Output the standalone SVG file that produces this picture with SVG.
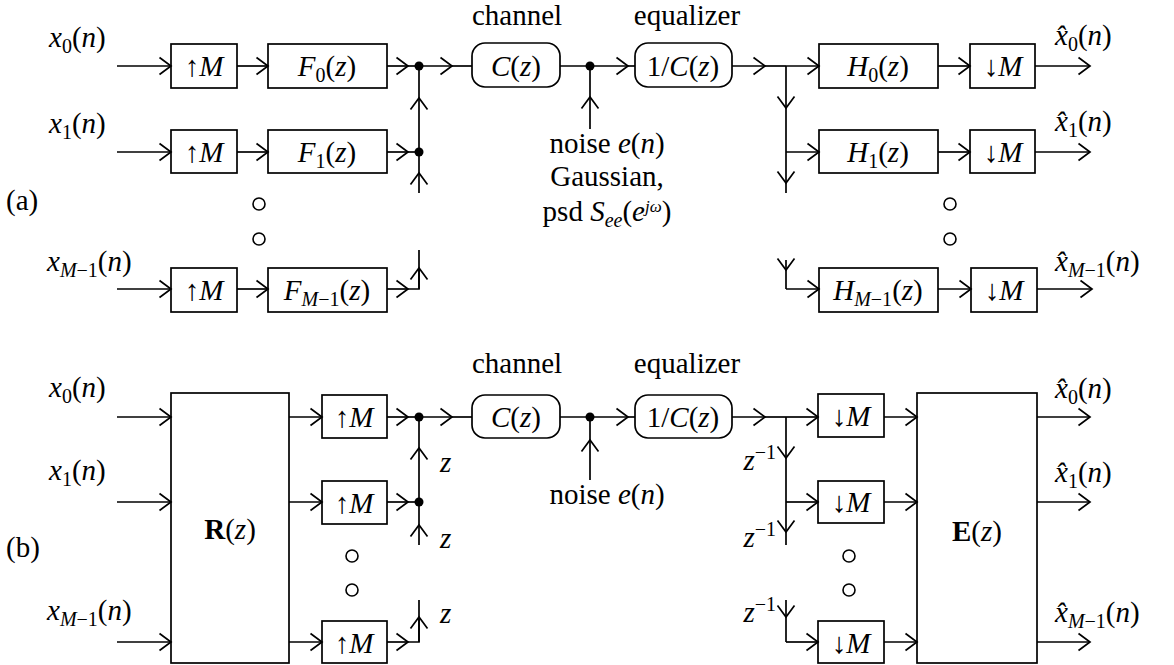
<svg xmlns="http://www.w3.org/2000/svg" width="1174" height="665" viewBox="0 0 1174 665">
<style>
.t{font-family:"Liberation Serif","DejaVu Serif",serif;font-size:29px;fill:#000}
.i{font-style:italic}
.s{font-size:20px}
.b{font-weight:bold}
.box{fill:none;stroke:#000;stroke-width:1.7}
.ln{fill:none;stroke:#000;stroke-width:1.7}
.dot{fill:#000}
.circ{fill:none;stroke:#000;stroke-width:1.6}
</style>
<defs>
<marker id="ah" markerUnits="userSpaceOnUse" markerWidth="15" markerHeight="20" viewBox="0 0 15 20" refX="13" refY="10" orient="auto">
<path d="M1.5,1.5 L13,10 L1.5,18.5" fill="none" stroke="#000" stroke-width="1.7"/>
</marker>
</defs>

<!-- ============ (a) ============ -->
<text class="t" x="6" y="210">(a)</text>

<g id="a-labels">
<text class="t" x="49" y="47"><tspan class="i">x</tspan><tspan class="s" dy="6">0</tspan><tspan dy="-6">(</tspan><tspan class="i">n</tspan>)</text>
<text class="t" x="49" y="133"><tspan class="i">x</tspan><tspan class="s" dy="6">1</tspan><tspan dy="-6">(</tspan><tspan class="i">n</tspan>)</text>
<text class="t" x="47" y="271"><tspan class="i">x</tspan><tspan class="s i" dy="6">M</tspan><tspan class="s">−1</tspan><tspan dy="-6">(</tspan><tspan class="i">n</tspan>)</text>
<text class="t" x="517" y="25" text-anchor="middle">channel</text>
<text class="t" x="687" y="25" text-anchor="middle">equalizer</text>
<text class="t" x="607" y="153" text-anchor="middle">noise <tspan class="i">e</tspan>(<tspan class="i">n</tspan>)</text>
<text class="t" x="607" y="186" text-anchor="middle">Gaussian,</text>
<text class="t" x="607" y="221" text-anchor="middle">psd <tspan class="i">S</tspan><tspan class="s i" dy="6">ee</tspan><tspan dy="-6">(</tspan><tspan class="i">e</tspan><tspan class="i" font-size="17" dy="-9">jω</tspan><tspan dy="9">)</tspan></text>
<text class="t" x="1055" y="45"><tspan class="i">x̂</tspan><tspan class="s" dy="6">0</tspan><tspan dy="-6">(</tspan><tspan class="i">n</tspan>)</text>
<text class="t" x="1055" y="131"><tspan class="i">x̂</tspan><tspan class="s" dy="6">1</tspan><tspan dy="-6">(</tspan><tspan class="i">n</tspan>)</text>
<text class="t" x="1055" y="271"><tspan class="i">x̂</tspan><tspan class="s i" dy="6">M</tspan><tspan class="s">−1</tspan><tspan dy="-6">(</tspan><tspan class="i">n</tspan>)</text>
</g>

<g id="a-up0"><rect class="box" x="171" y="44" width="66" height="44"/><text class="t" x="204" y="76" text-anchor="middle">↑<tspan class="i">M</tspan></text></g>
<g id="a-up1"><rect class="box" x="171" y="130" width="66" height="43"/><text class="t" x="204" y="162" text-anchor="middle">↑<tspan class="i">M</tspan></text></g>
<g id="a-up2"><rect class="box" x="171" y="268" width="66" height="44"/><text class="t" x="204" y="300" text-anchor="middle">↑<tspan class="i">M</tspan></text></g>
<g id="a-F0"><rect class="box" x="268" y="44" width="119" height="44"/><text class="t" x="327" y="76" text-anchor="middle"><tspan class="i">F</tspan><tspan class="s" dy="6">0</tspan><tspan dy="-6">(</tspan><tspan class="i">z</tspan>)</text></g>
<g id="a-F1"><rect class="box" x="268" y="130" width="119" height="43"/><text class="t" x="327" y="162" text-anchor="middle"><tspan class="i">F</tspan><tspan class="s" dy="6">1</tspan><tspan dy="-6">(</tspan><tspan class="i">z</tspan>)</text></g>
<g id="a-F2"><rect class="box" x="268" y="268" width="119" height="44"/><text class="t" x="327" y="300" text-anchor="middle"><tspan class="i">F</tspan><tspan class="s i" dy="6">M</tspan><tspan class="s">−1</tspan><tspan dy="-6">(</tspan><tspan class="i">z</tspan>)</text></g>
<g id="a-C"><rect class="box" x="472" y="43" width="88" height="44" rx="13"/><text class="t" x="516" y="76" text-anchor="middle"><tspan class="i">C</tspan>(<tspan class="i">z</tspan>)</text></g>
<g id="a-eq"><rect class="box" x="635" y="43" width="97" height="44" rx="13"/><text class="t" x="683" y="76" text-anchor="middle">1/<tspan class="i">C</tspan>(<tspan class="i">z</tspan>)</text></g>
<g id="a-H0"><rect class="box" x="819" y="44" width="119" height="44"/><text class="t" x="878" y="76" text-anchor="middle"><tspan class="i">H</tspan><tspan class="s" dy="6">0</tspan><tspan dy="-6">(</tspan><tspan class="i">z</tspan>)</text></g>
<g id="a-H1"><rect class="box" x="819" y="130" width="119" height="43"/><text class="t" x="878" y="162" text-anchor="middle"><tspan class="i">H</tspan><tspan class="s" dy="6">1</tspan><tspan dy="-6">(</tspan><tspan class="i">z</tspan>)</text></g>
<g id="a-H2"><rect class="box" x="819" y="268" width="119" height="44"/><text class="t" x="878" y="300" text-anchor="middle"><tspan class="i">H</tspan><tspan class="s i" dy="6">M</tspan><tspan class="s">−1</tspan><tspan dy="-6">(</tspan><tspan class="i">z</tspan>)</text></g>
<g id="a-dn0"><rect class="box" x="970" y="44" width="65" height="44"/><text class="t" x="1003" y="76" text-anchor="middle">↓<tspan class="i">M</tspan></text></g>
<g id="a-dn1"><rect class="box" x="970" y="130" width="65" height="43"/><text class="t" x="1003" y="162" text-anchor="middle">↓<tspan class="i">M</tspan></text></g>
<g id="a-dn2"><rect class="box" x="971" y="268" width="66" height="44"/><text class="t" x="1004" y="300" text-anchor="middle">↓<tspan class="i">M</tspan></text></g>

<g id="a-dots">
<circle class="circ" cx="259" cy="204" r="6"/><circle class="circ" cx="259" cy="239" r="6"/>
<circle class="circ" cx="950" cy="204" r="6"/><circle class="circ" cx="950" cy="239" r="6"/>
</g>

<g id="a-connectors">
<path class="ln" d="M117,66H171" marker-end="url(#ah)"/>
<path class="ln" d="M117,152H171" marker-end="url(#ah)"/>
<path class="ln" d="M117,289H171" marker-end="url(#ah)"/>
<path class="ln" d="M237,66H268" marker-end="url(#ah)"/>
<path class="ln" d="M237,152H268" marker-end="url(#ah)"/>
<path class="ln" d="M237,289H268" marker-end="url(#ah)"/>
<path class="ln" d="M387,66H408" marker-end="url(#ah)"/><path class="ln" d="M408,66H419"/>
<path class="ln" d="M387,152H408" marker-end="url(#ah)"/><path class="ln" d="M408,152H419"/>
<path class="ln" d="M387,289H408" marker-end="url(#ah)"/><path class="ln" d="M408,289H419V250"/>
<path class="ln" d="M419,289V268" marker-end="url(#ah)"/>
<path class="ln" d="M419,193V173" marker-end="url(#ah)"/><path class="ln" d="M419,173V152"/>
<path class="ln" d="M419,152V98" marker-end="url(#ah)"/><path class="ln" d="M419,98V66"/>
<circle class="dot" cx="419" cy="66" r="4.5"/><circle class="dot" cx="419" cy="152" r="4.5"/>
<path class="ln" d="M419,66H452" marker-end="url(#ah)"/><path class="ln" d="M452,66H472"/>
<path class="ln" d="M560,66H628" marker-end="url(#ah)"/><path class="ln" d="M628,66H635"/>
<circle class="dot" cx="590" cy="66" r="4.5"/>
<path class="ln" d="M590,129V97" marker-end="url(#ah)"/><path class="ln" d="M590,97V66"/>
<path class="ln" d="M732,66H765" marker-end="url(#ah)"/><path class="ln" d="M765,66H786"/>
<path class="ln" d="M786,66H819" marker-end="url(#ah)"/>
<path class="ln" d="M786,66V108" marker-end="url(#ah)"/><path class="ln" d="M786,108V152"/>
<path class="ln" d="M786,152V183" marker-end="url(#ah)"/><path class="ln" d="M786,183V193"/>
<path class="ln" d="M786,152H819" marker-end="url(#ah)"/>
<path class="ln" d="M786,260V270" marker-end="url(#ah)"/><path class="ln" d="M786,270V289"/>
<path class="ln" d="M786,289H819" marker-end="url(#ah)"/>
<path class="ln" d="M938,66H970" marker-end="url(#ah)"/>
<path class="ln" d="M938,152H970" marker-end="url(#ah)"/>
<path class="ln" d="M938,289H971" marker-end="url(#ah)"/>
<path class="ln" d="M1035,66H1090" marker-end="url(#ah)"/>
<path class="ln" d="M1035,152H1090" marker-end="url(#ah)"/>
<path class="ln" d="M1037,289H1092" marker-end="url(#ah)"/>
</g>

<!-- ============ (b) ============ -->
<text class="t" x="6" y="557">(b)</text>

<g id="b-labels">
<text class="t" x="49" y="397"><tspan class="i">x</tspan><tspan class="s" dy="6">0</tspan><tspan dy="-6">(</tspan><tspan class="i">n</tspan>)</text>
<text class="t" x="49" y="480"><tspan class="i">x</tspan><tspan class="s" dy="6">1</tspan><tspan dy="-6">(</tspan><tspan class="i">n</tspan>)</text>
<text class="t" x="47" y="620"><tspan class="i">x</tspan><tspan class="s i" dy="6">M</tspan><tspan class="s">−1</tspan><tspan dy="-6">(</tspan><tspan class="i">n</tspan>)</text>
<text class="t" x="517" y="373" text-anchor="middle">channel</text>
<text class="t" x="687" y="373" text-anchor="middle">equalizer</text>
<text class="t" x="607" y="504" text-anchor="middle">noise <tspan class="i">e</tspan>(<tspan class="i">n</tspan>)</text>
<text class="t i" x="440" y="472">z</text>
<text class="t i" x="440" y="548">z</text>
<text class="t i" x="440" y="623">z</text>
<text class="t" x="776" y="470" text-anchor="end"><tspan class="i">z</tspan><tspan class="s" dy="-11">−1</tspan></text>
<text class="t" x="776" y="547" text-anchor="end"><tspan class="i">z</tspan><tspan class="s" dy="-11">−1</tspan></text>
<text class="t" x="776" y="622" text-anchor="end"><tspan class="i">z</tspan><tspan class="s" dy="-11">−1</tspan></text>
<text class="t" x="1055" y="398"><tspan class="i">x̂</tspan><tspan class="s" dy="6">0</tspan><tspan dy="-6">(</tspan><tspan class="i">n</tspan>)</text>
<text class="t" x="1055" y="482"><tspan class="i">x̂</tspan><tspan class="s" dy="6">1</tspan><tspan dy="-6">(</tspan><tspan class="i">n</tspan>)</text>
<text class="t" x="1055" y="622"><tspan class="i">x̂</tspan><tspan class="s i" dy="6">M</tspan><tspan class="s">−1</tspan><tspan dy="-6">(</tspan><tspan class="i">n</tspan>)</text>
</g>

<g id="b-R"><rect class="box" x="171" y="393" width="118" height="270"/><text class="t" x="230" y="539" text-anchor="middle"><tspan class="b">R</tspan>(<tspan class="i">z</tspan>)</text></g>
<g id="b-up0"><rect class="box" x="322" y="395" width="65" height="43"/><text class="t" x="354" y="427" text-anchor="middle">↑<tspan class="i">M</tspan></text></g>
<g id="b-up1"><rect class="box" x="322" y="481" width="65" height="43"/><text class="t" x="354" y="513" text-anchor="middle">↑<tspan class="i">M</tspan></text></g>
<g id="b-up2"><rect class="box" x="322" y="621" width="65" height="42"/><text class="t" x="354" y="653" text-anchor="middle">↑<tspan class="i">M</tspan></text></g>
<g id="b-C"><rect class="box" x="472" y="395" width="88" height="43" rx="13"/><text class="t" x="516" y="427" text-anchor="middle"><tspan class="i">C</tspan>(<tspan class="i">z</tspan>)</text></g>
<g id="b-eq"><rect class="box" x="635" y="395" width="97" height="43" rx="13"/><text class="t" x="683" y="427" text-anchor="middle">1/<tspan class="i">C</tspan>(<tspan class="i">z</tspan>)</text></g>
<g id="b-dn0"><rect class="box" x="818" y="394" width="66" height="43"/><text class="t" x="851" y="426" text-anchor="middle">↓<tspan class="i">M</tspan></text></g>
<g id="b-dn1"><rect class="box" x="818" y="481" width="66" height="42"/><text class="t" x="851" y="512" text-anchor="middle">↓<tspan class="i">M</tspan></text></g>
<g id="b-dn2"><rect class="box" x="818" y="621" width="66" height="42"/><text class="t" x="851" y="653" text-anchor="middle">↓<tspan class="i">M</tspan></text></g>
<g id="b-E"><rect class="box" x="917" y="393" width="120" height="270"/><text class="t" x="977" y="541" text-anchor="middle"><tspan class="b">E</tspan>(<tspan class="i">z</tspan>)</text></g>

<g id="b-dots">
<circle class="circ" cx="352" cy="556" r="6"/><circle class="circ" cx="352" cy="590" r="6"/>
<circle class="circ" cx="849" cy="556" r="6"/><circle class="circ" cx="849" cy="590" r="6"/>
</g>

<g id="b-connectors">
<path class="ln" d="M117,417H171" marker-end="url(#ah)"/>
<path class="ln" d="M117,502H171" marker-end="url(#ah)"/>
<path class="ln" d="M117,642H171" marker-end="url(#ah)"/>
<path class="ln" d="M289,417H322" marker-end="url(#ah)"/>
<path class="ln" d="M289,502H322" marker-end="url(#ah)"/>
<path class="ln" d="M289,642H322" marker-end="url(#ah)"/>
<path class="ln" d="M387,417H408" marker-end="url(#ah)"/><path class="ln" d="M408,417H419"/>
<path class="ln" d="M387,502H408" marker-end="url(#ah)"/><path class="ln" d="M408,502H419"/>
<path class="ln" d="M387,642H408" marker-end="url(#ah)"/><path class="ln" d="M408,642H419V600"/>
<path class="ln" d="M419,642V617" marker-end="url(#ah)"/>
<path class="ln" d="M419,545V525" marker-end="url(#ah)"/><path class="ln" d="M419,525V502"/>
<path class="ln" d="M419,502V448" marker-end="url(#ah)"/><path class="ln" d="M419,448V417"/>
<circle class="dot" cx="419" cy="417" r="4.5"/><circle class="dot" cx="419" cy="502" r="4.5"/>
<path class="ln" d="M419,417H452" marker-end="url(#ah)"/><path class="ln" d="M452,417H472"/>
<path class="ln" d="M560,417H628" marker-end="url(#ah)"/><path class="ln" d="M628,417H635"/>
<circle class="dot" cx="590" cy="417" r="4.5"/>
<path class="ln" d="M590,480V440" marker-end="url(#ah)"/><path class="ln" d="M590,440V417"/>
<path class="ln" d="M732,417H765" marker-end="url(#ah)"/><path class="ln" d="M765,417H786"/>
<path class="ln" d="M786,417H818" marker-end="url(#ah)"/>
<path class="ln" d="M786,417V458" marker-end="url(#ah)"/><path class="ln" d="M786,458V502"/>
<path class="ln" d="M786,502V532" marker-end="url(#ah)"/><path class="ln" d="M786,532V545"/>
<path class="ln" d="M786,502H818" marker-end="url(#ah)"/>
<path class="ln" d="M786,600V617" marker-end="url(#ah)"/><path class="ln" d="M786,617V642"/>
<path class="ln" d="M786,642H818" marker-end="url(#ah)"/>
<path class="ln" d="M884,417H917" marker-end="url(#ah)"/>
<path class="ln" d="M884,502H917" marker-end="url(#ah)"/>
<path class="ln" d="M884,642H917" marker-end="url(#ah)"/>
<path class="ln" d="M1037,417H1090" marker-end="url(#ah)"/>
<path class="ln" d="M1037,502H1090" marker-end="url(#ah)"/>
<path class="ln" d="M1037,642H1090" marker-end="url(#ah)"/>
</g>
</svg>
